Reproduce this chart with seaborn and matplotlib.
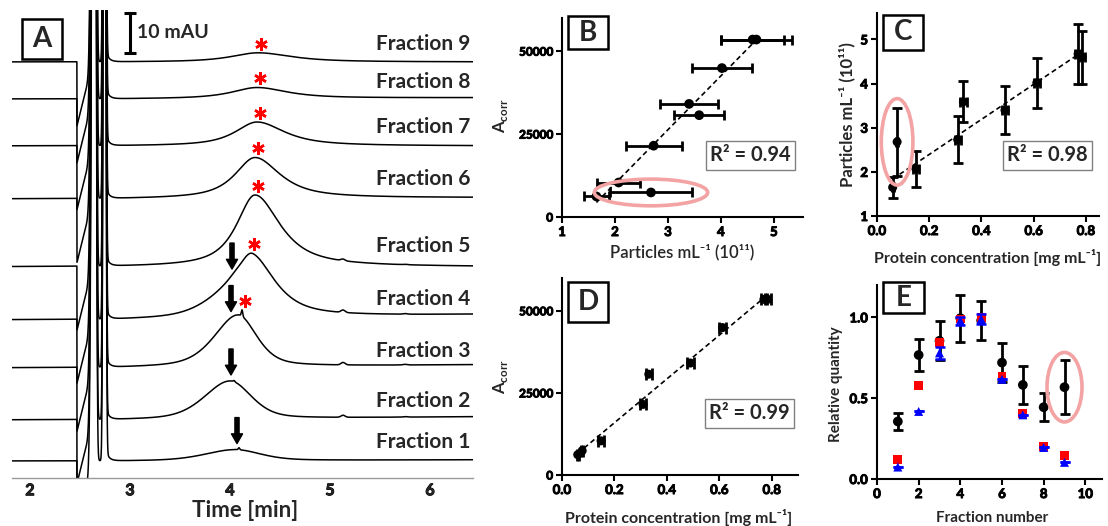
import matplotlib
matplotlib.use('Agg')
import matplotlib.pyplot as plt
import matplotlib.patheffects as pe
from matplotlib.patches import Ellipse, Rectangle
from matplotlib.ticker import FormatStrFormatter
import seaborn as sns
import numpy as np
import pandas as pd

# ---------------- panel A: chromatograms (mAU), fractions 1..9 ----------------
fractions = [1, 2, 3, 4, 5, 6, 7, 8, 9]
baseline = [4.25, 14.5, 27.5, 39.5, 52.75, 69.75, 83.0, 94.75, 104.0]
baseline_drift = [0.3, 0.8, 0.8, 1.3, 0.0, 0.3, 0.0, 0.3, 0.0]
peak_time = [4.05, 4.0, 4.08, 4.23, 4.25, 4.25, 4.27, 4.27, 4.28]
peak_height = [2.75, 9.5, 13.0, 14.0, 18.0, 10.25, 6.0, 2.75, 2.3]
peak_wl = [0.35, 0.3, 0.28, 0.18, 0.22, 0.24, 0.26, 0.3, 0.32]
peak_wr = [0.3, 0.25, 0.22, 0.28, 0.3, 0.3, 0.33, 0.36, 0.4]
peak_eta = [0.4, 0.4, 0.5, 0.8, 0.85, 0.85, 0.85, 0.85, 0.85]
shoulder_height = [0, 0, 0, 5.0, 0, 0, 0, 0, 0]      # shoulder at ~4.0 min
spike_height = [0.5, 0.3, 1.6, 0, 0, 0, 0, 0, 0]     # sharp spike near apex
bump_height = [0, 0.5, 0.6, 0.6, 0.4, 0, 0, 0, 0]    # small peak at ~5.13 min
label_level = [7.5, 17.75, 30.25, 43.25, 56.5, 73.25, 86.25, 97.5, 107.0]
arrow_fractions = [1, 2, 3, 4]
arrow_time = [4.07, 4.01, 4.01, 4.02]
star_fractions = [3, 4, 5, 6, 7, 8, 9]
time_ticks = [2, 3, 4, 5, 6]

# ---------------- panels B-E: per fraction values ----------------
frac_no = [1, 2, 3, 4, 5, 6, 7, 8, 9]
particles = [1.65, 3.59, 4.02, 4.67, 4.60, 3.40, 2.73, 2.07, 2.68]     # 1e11 / mL
particles_err = [0.24, 0.47, 0.57, 0.67, 0.60, 0.55, 0.53, 0.41, 0.77]
acorr = [6200, 30700, 44900, 53500, 53500, 34100, 21500, 10400, 7400]
protein = [0.06, 0.331, 0.612, 0.77, 0.785, 0.49, 0.309, 0.149, 0.077]  # mg/mL
protein_err = [0.004, 0.012, 0.012, 0.012, 0.012, 0.012, 0.012, 0.012, 0.004]
outlier = 9

rel_particles = [0.356, 0.767, 0.855, 0.995, 0.98, 0.72, 0.582, 0.444, 0.568]
rel_particles_err = [0.05, 0.10, 0.12, 0.145, 0.12, 0.12, 0.118, 0.085, 0.165]
rel_acorr = [0.123, 0.576, 0.845, 0.99, 1.0, 0.634, 0.403, 0.2, 0.144]
rel_protein = [0.074, 0.418, 0.78, 0.98, 0.99, 0.617, 0.397, 0.195, 0.103]
rel_protein_err = [0, 0, 0.035, 0.025, 0.03, 0, 0, 0, 0]

sns.set_theme(style='ticks')
plt.rcParams['font.family'] = ['Lato', 'DejaVu Sans']
plt.rcParams['font.weight'] = 'bold'
plt.rcParams['mathtext.fontset'] = 'custom'
plt.rcParams['mathtext.rm'] = 'Lato'
plt.rcParams['mathtext.bf'] = 'Lato:bold'

RING = '#f3a3a3'
W, H = 1108, 526
fig = plt.figure(figsize=(W / 100, H / 100), dpi=100)


def px_axes(left, top, right, bottom):
    return fig.add_axes([left / W, 1 - bottom / H, (right - left) / W, (bottom - top) / H])


def peak(t, c, h, wl, wr, eta):
    w = np.where(t < c, wl, wr)
    x = (t - c) / w
    return h * ((1 - eta) * np.exp(-np.log(2) * x ** 2) + eta / (1 + x ** 2))


def void_signal(t):
    # injection disturbance: drop, linear recovery, then two sharp spikes
    ramp = np.clip(1 - (t - 2.47) / 0.16, 0, 1)
    dip = np.where(t >= 2.47, -16 * ramp, 0)
    s1 = np.where(t < 2.645, 400 * np.exp(-0.5 * ((t - 2.645) / 0.02) ** 2),
                  400 * np.exp(-0.5 * ((t - 2.645) / 0.012) ** 2))
    s2 = 400 * np.exp(-0.5 * ((t - 2.745) / 0.01) ** 2)
    tail = np.where(t >= 2.745, 4 * np.exp(-(t - 2.745) / 0.03), 0)
    return dip + s1 + s2 + tail


def panel_box(ax, letter, x, y, w, h):
    ax.add_patch(Rectangle((x, y), w, h, transform=ax.transAxes, fill=False,
                           ec='black', lw=1.8, clip_on=False, zorder=5))
    ax.text(x + w / 2, y + h / 2, letter, transform=ax.transAxes, ha='center',
            va='center', fontsize=20, fontweight='bold', zorder=6)


THICK = [pe.withStroke(linewidth=0.7, foreground='black')]


def bold_ticks(ax):
    plt.setp(ax.get_xticklabels() + ax.get_yticklabels(), fontweight='bold',
             path_effects=THICK)


def style_axes(ax):
    for s in ['top', 'right']:
        ax.spines[s].set_visible(False)
    for s in ['left', 'bottom']:
        ax.spines[s].set_linewidth(1.5)
        ax.spines[s].set_color('black')
    ax.tick_params(direction='out', length=4, width=1.5, labelsize=9.5, pad=2.5,
                   colors='black')
    bold_ticks(ax)


# ---------------- A ----------------
axA = px_axes(12, 10, 473, 478)
t = np.linspace(1.82, 6.43, 3000)
rows = []
traces = {}
for i, f in enumerate(fractions):
    y = (baseline[i] + baseline_drift[i] * np.clip((t - 2.8) / 3.6, 0, 1)
         + void_signal(t)
         + peak(t, peak_time[i], peak_height[i], peak_wl[i], peak_wr[i], peak_eta[i])
         + peak(t, 4.0, shoulder_height[i], 0.3, 0.2, 0.5)
         + spike_height[i] * np.exp(-0.5 * ((t - peak_time[i] - 0.04) / 0.007) ** 2)
         + bump_height[i] * np.exp(-0.5 * ((t - 5.13) / 0.02) ** 2)
         + 0.25 * bump_height[i] * np.exp(-0.5 * ((t - 5.75) / 0.02) ** 2))
    traces[f] = y
    rows.append(pd.DataFrame({'time': t, 'signal': y, 'fraction': f}))
chrom = pd.concat(rows, ignore_index=True)
sns.lineplot(data=chrom, x='time', y='signal', units='fraction', estimator=None,
             color='black', lw=1.1, sort=False, ax=axA)
axA.set_xlim(1.82, 6.43)
axA.set_ylim(0, 117)
for s in ['top', 'right', 'left']:
    axA.spines[s].set_visible(False)
axA.spines['bottom'].set_color('#9a9a9a')
axA.spines['bottom'].set_linewidth(1.0)
axA.set_yticks([])
axA.set_xticks(time_ticks)
axA.tick_params(axis='x', length=0, labelsize=11.5, pad=4.5)
bold_ticks(axA)
axA.set_ylabel('')
axA.set_xlabel('Time [min]', fontsize=16, fontweight='bold')
axA.xaxis.set_label_coords(0.505, -0.047)

for i, f in enumerate(fractions):
    axA.text(6.4, label_level[i], f'Fraction {f}', ha='right', va='baseline',
             fontsize=15, fontweight='bold')

win = (t > 3.8) & (t < 4.6)
for f in star_fractions:
    k = np.argmax(traces[f][win])
    axA.plot(t[win][k] + 0.03, traces[f][win][k] + 2.3, marker=(6, 2, 0),
             ms=9, mew=1.8, color='red', ls='none', zorder=4)

for f, ta in zip(arrow_fractions, arrow_time):
    tip = np.interp(ta, t, traces[f]) + 1.5
    axA.annotate('', xy=(ta, tip), xytext=(ta, tip + 6.5),
                 arrowprops=dict(arrowstyle='simple,head_length=0.7,head_width=0.8,tail_width=0.3',
                                 mutation_scale=10, color='black', shrinkA=0, shrinkB=0))

# 10 mAU scale bar
axA.plot([3.0, 3.0], [106.25, 116.25], color='black', lw=2.2, solid_capstyle='butt')
axA.plot([3.0, 3.0], [106.25, 116.25], color='black', ls='none', marker='_', ms=9, mew=2.2)
axA.text(3.07, 111.25, '10 mAU', ha='left', va='center', fontsize=14, fontweight='bold')
panel_box(axA, 'A', 0.0217, 0.8957, 0.0868, 0.0851)


def scatter_fit(ax, x, y, xerr, yerr, fit_mask, ms, capsize):
    ax.errorbar(x, y, xerr=xerr, yerr=yerr, fmt='none', ecolor='black',
                elinewidth=2.0, capsize=capsize, capthick=2.0, zorder=3)
    sns.scatterplot(x=x, y=y, color='black', s=ms ** 2, edgecolor='none',
                    ax=ax, zorder=4)
    sns.regplot(x=np.asarray(x)[fit_mask], y=np.asarray(y)[fit_mask], ax=ax,
                scatter=False, ci=None, truncate=True, color='black',
                line_kws=dict(ls=(0, (3, 2)), lw=1.2, zorder=5))


def r2_box(ax, x, y, txt):
    ax.text(x, y, txt, transform=ax.transAxes, ha='center', va='center',
            fontsize=14.5, fontweight='bold', zorder=6,
            bbox=dict(boxstyle='square,pad=0.22', fc='white', ec='#808080', lw=1.0))


keep = np.array(frac_no) != outlier
oi = frac_no.index(outlier)

# ---------------- B ----------------
axB = px_axes(562, 18, 803, 217)
scatter_fit(axB, particles, acorr, particles_err, None, keep, 7, 3.5)
axB.add_patch(Ellipse((particles[oi], acorr[oi]), 2.14, 8050, fill=False,
                      ec=RING, lw=2.6, zorder=6))
axB.set_xlim(1, 5.55)
axB.set_ylim(0, 60000)
axB.set_xticks([1, 2, 3, 4, 5])
axB.set_yticks([0, 25000, 50000])
style_axes(axB)
axB.tick_params(axis='y', labelsize=8.5)
axB.set_xlabel('Particles mL⁻¹ (10¹¹)', fontsize=12, fontweight='semibold')
axB.set_ylabel(r'A$_{\mathbf{corr}}$', fontsize=12, fontweight='bold')
axB.xaxis.set_label_coords(0.5, -0.135)
axB.yaxis.set_label_coords(-0.215, 0.51)
r2_box(axB, 0.782, 0.31, 'R² = 0.94')
panel_box(axB, 'B', 0.025, 0.844, 0.166, 0.166)

# ---------------- C ----------------
axC = px_axes(877, 13, 1099, 216)
scatter_fit(axC, protein, particles, protein_err, particles_err, keep, 6.5, 3.5)
axC.add_patch(Ellipse((protein[oi], particles[oi]), 0.121, 1.96, fill=False,
                      ec=RING, lw=2.6, zorder=6))
axC.set_xlim(0, 0.85)
axC.set_ylim(1, 5.6)
axC.set_xticks([0, 0.2, 0.4, 0.6, 0.8])
axC.set_yticks([1, 2, 3, 4, 5])
axC.xaxis.set_major_formatter(FormatStrFormatter('%.1f'))
style_axes(axC)
axC.set_xlabel('Protein concentration [mg mL⁻¹]', fontsize=11.5, fontweight='bold')
axC.set_ylabel('Particles mL⁻¹ (10¹¹)', fontsize=12, fontweight='bold')
axC.xaxis.set_label_coords(0.5, -0.165)
axC.yaxis.set_label_coords(-0.1, 0.5)
r2_box(axC, 0.768, 0.30, 'R² = 0.98')
panel_box(axC, 'C', 0.027, 0.818, 0.18, 0.172)

# ---------------- D ----------------
axD = px_axes(562, 278, 798, 475)
scatter_fit(axD, protein, acorr, protein_err, None, np.ones(9, bool), 6.5, 4.5)
axD.set_xlim(0, 0.9)
axD.set_ylim(0, 60000)
axD.set_xticks([0, 0.2, 0.4, 0.6, 0.8])
axD.set_yticks([0, 25000, 50000])
axD.xaxis.set_major_formatter(FormatStrFormatter('%.1f'))
style_axes(axD)
axD.tick_params(axis='y', labelsize=8.5)
axD.set_xlabel('Protein concentration [mg mL⁻¹]', fontsize=11.5, fontweight='bold')
axD.set_ylabel(r'A$_{\mathbf{corr}}$', fontsize=12, fontweight='bold')
axD.xaxis.set_label_coords(0.495, -0.172)
axD.yaxis.set_label_coords(-0.22, 0.5)
r2_box(axD, 0.794, 0.313, 'R² = 0.99')
panel_box(axD, 'D', 0.025, 0.777, 0.169, 0.203)

# ---------------- E ----------------
axE = px_axes(877, 285, 1102, 479)
axE.errorbar(frac_no, rel_particles, yerr=rel_particles_err, fmt='none', ecolor='black',
             elinewidth=2.0, capsize=3.5, capthick=2.0, zorder=3)
sns.scatterplot(x=frac_no, y=rel_particles, color='black', s=49, edgecolor='none',
                ax=axE, zorder=4)
sns.scatterplot(x=frac_no, y=rel_acorr, color='#ff0000', marker='s', s=40,
                edgecolor='none', ax=axE, zorder=5)
axE.errorbar(frac_no, rel_protein, yerr=rel_protein_err, fmt='none', ecolor='#0000ff',
             elinewidth=1.5, capsize=3.5, capthick=1.8, zorder=6)
sns.scatterplot(x=frac_no, y=rel_protein, color='#0000ff', marker='^', s=42,
                edgecolor='none', ax=axE, zorder=7)
axE.add_patch(Ellipse((frac_no[oi], rel_particles[oi]), 1.68, 0.43, fill=False,
                      ec=RING, lw=2.6, zorder=8))
axE.set_xlim(0, 10.8)
axE.set_ylim(0, 1.2)
axE.set_xticks([0, 2, 4, 6, 8, 10])
axE.set_yticks([0, 0.5, 1.0])
axE.yaxis.set_major_formatter(FormatStrFormatter('%.1f'))
style_axes(axE)
axE.set_xlabel('Fraction number', fontsize=11, fontweight='bold')
axE.set_ylabel('Relative quantity', fontsize=11, fontweight='bold')
axE.xaxis.set_label_coords(0.51, -0.165)
axE.yaxis.set_label_coords(-0.15, 0.49)
panel_box(axE, 'E', 0.027, 0.855, 0.182, 0.16)

fig.savefig('out.png', dpi=100)
